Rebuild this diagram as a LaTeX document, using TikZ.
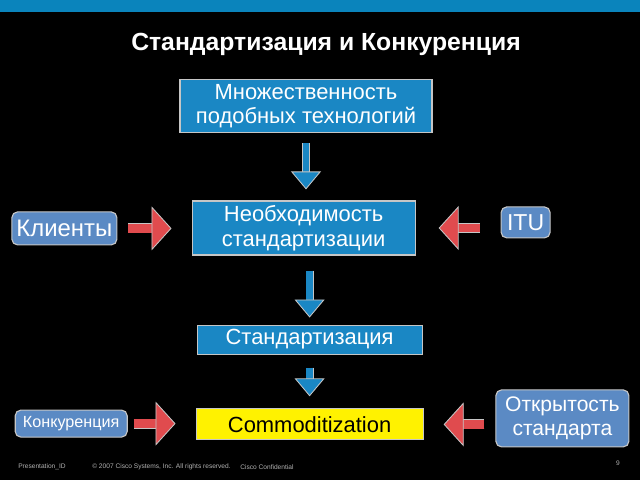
\documentclass[tikz,border=0pt]{standalone}
\usepackage{fontspec}
\setmainfont{Liberation Sans}
\usetikzlibrary{arrows.meta}

\definecolor{barblue}{HTML}{0A84BC}
\definecolor{boxblue}{HTML}{1A87C4}
\definecolor{softblue}{HTML}{5B8AC4}
\definecolor{arrred}{HTML}{E04B4E}

\tikzset{
  mainbox/.style={draw=gray!45, line width=0.8pt, fill=boxblue, text=white,
    align=center, inner sep=0pt, font=\fontsize{15.6}{17.5}\selectfont},
  sidebox/.style={draw=gray!45, line width=0.8pt, fill=softblue, text=white,
    rounded corners=4pt, align=center, inner sep=0pt, font=\fontsize{15}{17}\selectfont},
  downarrow/.style={draw=gray!45, double=boxblue, double distance=4.5pt, line width=0.6pt,
    -{Triangle[width=0.75cm,length=0.45cm,fill=boxblue,line width=0.6pt]}},
  sidearrow/.style={draw=gray!45, double=arrred, double distance=6pt, line width=0.6pt,
    -{Triangle[width=1.1cm,length=0.5cm,fill=arrred,line width=0.6pt]}},
  footnote/.style={text=gray!60, font=\fontsize{4.7}{5.5}\selectfont, inner sep=0pt}
}

\begin{document}
\begin{tikzpicture}
    % фон и полоса
    \fill[black] (0,0) rectangle (16,12);
    \fill[barblue] (0,11.7) rectangle (16,12);

    \node (title) at (8.15,10.9) [text=white, font=\fontsize{17.6}{20}\selectfont\bfseries]
        {Стандартизация и Конкуренция};

    % основная цепочка
    \node (mnog) at (7.65,9.35) [mainbox, minimum width=6.3cm, minimum height=1.325cm]
        {Множественность\\подобных технологий};
    \node (neob) at (7.59,6.3) [mainbox, minimum width=5.575cm, minimum height=1.35cm]
        {Необходимость\\стандартизации};
    \node (stand) at (7.74,3.51) [mainbox, minimum width=5.625cm, minimum height=0.725cm]
        {Стандартизация};
    \node (commod) at (7.74,1.39) [mainbox, fill=yellow, text=black, minimum width=5.675cm, minimum height=0.775cm]
        {Commoditization};

    % боковые факторы
    \node (klient) at (1.61,6.29) [sidebox, font=\fontsize{17}{19}\selectfont, minimum width=2.625cm, minimum height=0.825cm] {Клиенты};
    \node (itu) at (13.14,6.44) [sidebox, font=\fontsize{16.4}{18}\selectfont, minimum width=1.225cm, minimum height=0.775cm] {ITU};
    \node (konk) at (1.78,1.41) [sidebox, font=\fontsize{11.5}{13}\selectfont, minimum width=2.8cm, minimum height=0.675cm] {Конкуренция};
    \node (otkr) at (14.06,1.54) [sidebox, minimum width=3.325cm, minimum height=1.425cm] {Открытость\\стандарта};

    \draw[downarrow, shorten <=0.25cm, shorten >=0.275cm] (mnog.south) -- (mnog.south |- neob.north);
    \draw[downarrow, shorten <=0.375cm, shorten >=0.175cm] (stand.north |- neob.south) -- (stand.north);
    \draw[downarrow, shorten <=0.325cm, shorten >=0.3cm] (stand.south) -- (commod.north);

    \draw[sidearrow, shorten <=0.275cm, shorten >=0.5cm] (klient.east) -- (klient.east -| neob.west);
    \draw[sidearrow, shorten <=0.525cm, shorten >=0.575cm] (itu.west |- neob.east) -- (neob.east);
    \draw[sidearrow, shorten <=0.15cm, shorten >=0.5cm] (konk.east) -- (konk.east -| commod.west);
    \draw[sidearrow, shorten <=0.275cm, shorten >=0.5cm] (otkr.west |- commod.east) -- (commod.east);

    % подвал
    \node (pres) at (0.45,0.33) [footnote, anchor=west] {Presentation\_ID};
    \node (copy) at (2.3,0.33) [footnote, anchor=west] {© 2007 Cisco Systems, Inc. All rights reserved.};
    \node (conf) at (6.0,0.33) [footnote, anchor=west] {Cisco Confidential};
    \node (page) at (15.45,0.43) [footnote] {9};
\end{tikzpicture}
\end{document}
